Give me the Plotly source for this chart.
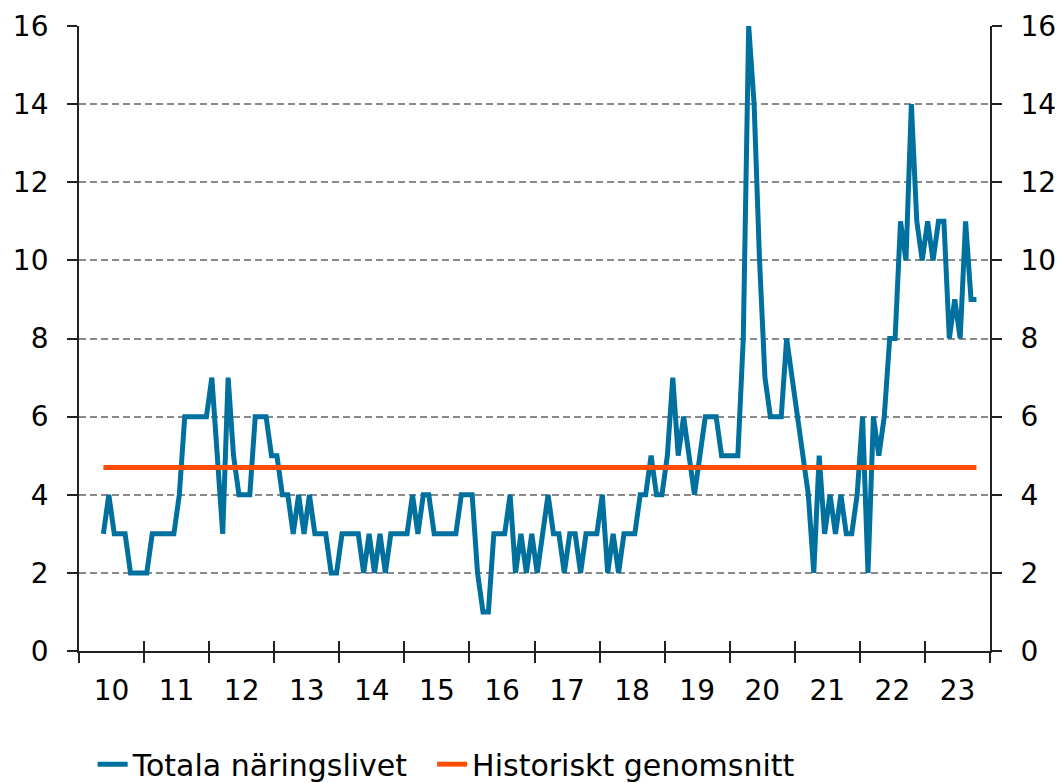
import plotly.graph_objects as go
import pandas as pd

# Monthly data, May 2010 - Oct 2023
start_month = "2010-05"
totala = [3, 4, 3, 3, 3, 2, 2, 2, 2, 3, 3, 3, 3, 3, 4, 6, 6, 6, 6, 6,
          7, 5, 3, 7, 5, 4, 4, 4, 6, 6, 6, 5, 5, 4, 4, 3, 4, 3, 4, 3,
          3, 3, 2, 2, 3, 3, 3, 3, 2, 3, 2, 3, 2, 3, 3, 3, 3, 4, 3, 4,
          4, 3, 3, 3, 3, 3, 4, 4, 4, 2, 1, 1, 3, 3, 3, 4, 2, 3, 2, 3,
          2, 3, 4, 3, 3, 2, 3, 3, 2, 3, 3, 3, 4, 2, 3, 2, 3, 3, 3, 4,
          4, 5, 4, 4, 5, 7, 5, 6, 5, 4, 5, 6, 6, 6, 5, 5, 5, 5, 8, 16,
          14, 10, 7, 6, 6, 6, 8, 7, 6, 5, 4, 2, 5, 3, 4, 3, 4, 3, 3, 4,
          6, 2, 6, 5, 6, 8, 8, 11, 10, 14, 11, 10, 11, 10, 11, 11, 8, 9, 8, 11,
          9, 9]
hist_mean = 4.7
years = list(range(2010, 2024))
year_labels = [str(y)[2:] for y in years]
y_ticks = list(range(0, 17, 2))
series_names = ["Totala näringslivet", "Historiskt genomsnitt"]

months = pd.period_range(start_month, periods=len(totala), freq="M")
x = [(p.year - 2010) * 12 + (p.month - 1) + 0.5 for p in months]
mean_vals = [hist_mean] * len(totala)

BLUE = "#00709F"
ORANGE = "#FF4C00"
FONT = "DejaVu Sans"
FS = 28
LFS = 30

year_bounds = [(y - 2010) * 12 for y in years] + [(years[-1] + 1 - 2010) * 12]
year_mids = [(y - 2010) * 12 + 6 for y in years]
xr = [0, year_bounds[-1]]

fig = go.Figure()
fig.add_trace(go.Scatter(x=x, y=totala, mode="lines", name=series_names[0] + "\u00a0\u00a0",
                         line=dict(color=BLUE, width=5)))
fig.add_trace(go.Scatter(x=x, y=mean_vals, mode="lines", name=series_names[1],
                         line=dict(color=ORANGE, width=5)))
# helper traces so the overlay axes exist
fig.add_trace(go.Scatter(x=[x[0]], y=[None], xaxis="x2", yaxis="y2", showlegend=False,
                         hoverinfo="skip", mode="lines"))
fig.add_trace(go.Scatter(x=[x[0]], y=[None], xaxis="x3", yaxis="y", showlegend=False,
                         hoverinfo="skip", mode="lines"))

fig.update_layout(
    width=1055, height=775,
    margin=dict(l=71, r=73, t=18, b=132, autoexpand=False),
    paper_bgcolor="white", plot_bgcolor="white",
    font=dict(family=FONT, size=FS, color="black"),
    showlegend=True,
    legend=dict(orientation="h", x=0.015, xanchor="left", y=-0.181, yanchor="middle",
                font=dict(family=FONT, size=LFS), itemwidth=30, tracegroupgap=0,
                bgcolor="rgba(0,0,0,0)"),
    xaxis=dict(range=xr, tickmode="array", tickvals=year_bounds, showticklabels=False,
               ticks="outside", ticklen=10, tickwidth=1.5, tickcolor="#222",
               showline=True, linecolor="#222", linewidth=1.8, showgrid=False,
               zeroline=False, fixedrange=True, automargin=False),
    xaxis2=dict(range=xr, overlaying="x", anchor="y", side="bottom", tickmode="array",
                tickvals=year_mids, ticktext=year_labels, ticks="", showline=False,
                showgrid=False, zeroline=False, ticklabelstandoff=20, automargin=False,
                tickfont=dict(family=FONT, size=FS)),
    xaxis3=dict(range=xr, overlaying="x", anchor="y", side="bottom", tickmode="array",
                tickvals=year_bounds, showticklabels=False, ticks="inside", ticklen=10,
                tickwidth=1.5, tickcolor="#222", showline=False, showgrid=False,
                zeroline=False, automargin=False),
    yaxis=dict(range=[0, 16], tickmode="array", tickvals=y_ticks, ticks="outside",
               ticklen=10, tickwidth=1.5, tickcolor="#222", showline=True,
               linecolor="#222", linewidth=1.8, showgrid=True, gridcolor="#8a8a8a",
               gridwidth=1.5, griddash="7px,4px", zeroline=False, ticklabelstandoff=13,
               automargin=False, tickfont=dict(family=FONT, size=FS)),
    yaxis2=dict(range=[0, 16], overlaying="y", side="right", anchor="x", tickmode="array",
                tickvals=y_ticks, ticks="outside", ticklen=10, tickwidth=1.5,
                tickcolor="#222", showline=True, linecolor="#222", linewidth=1.8,
                showgrid=False, zeroline=False, ticklabelstandoff=13, automargin=False,
                tickfont=dict(family=FONT, size=FS)),
)

fig.write_html("out.html")
